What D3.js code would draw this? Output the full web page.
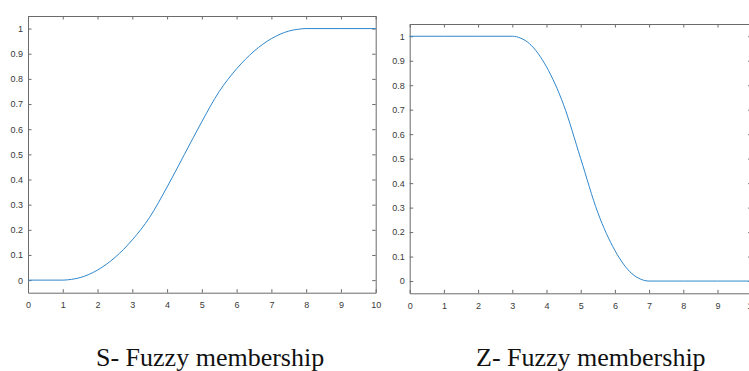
<!DOCTYPE html>
<html>
<head>
<meta charset="utf-8">
<script src="https://cdn.jsdelivr.net/npm/d3@7"></script>
<style>
  body { margin: 0; background: #fff; }
  svg { display: block; }
</style>
</head>
<body>
<div id="chart"></div>
<script>
/**
 * DATA
 */
const xTicks = [0, 1, 2, 3, 4, 5, 6, 7, 8, 9, 10];
const yTicks = [0, 0.1, 0.2, 0.3, 0.4, 0.5, 0.6, 0.7, 0.8, 0.9, 1];

const sX = [0, 0.5, 1, 1.25, 1.5, 2, 2.5, 3, 3.5, 4, 4.5, 5, 5.5, 6, 6.5, 7, 7.5, 7.75, 8, 9, 10];
const sY = [0, 0, 0, 0.003, 0.01, 0.04, 0.09, 0.16, 0.25, 0.37, 0.5, 0.63, 0.75, 0.84, 0.91, 0.96, 0.99, 0.997, 1, 1, 1];

const zX = [0, 1, 2, 3, 3.25, 3.5, 4, 4.5, 5, 5.5, 6, 6.5, 6.75, 7, 8, 9, 10];
const zY = [1, 1, 1, 1, 0.992, 0.97, 0.875, 0.72, 0.5, 0.28, 0.125, 0.03, 0.008, 0, 0, 0, 0];

const captions = ["S- Fuzzy membership", "Z- Fuzzy membership"];

/**
 * CONSTANTS
 */
const width = 749, height = 371;
const lineColor = "#2f87cc";
const axisColor = "#6b6b6b";

const svg = d3.select("#chart").append("svg")
  .attr("width", width)
  .attr("height", height);

// each panel: plot box in pixels (the right one runs past the window edge, like the reference)
const panels = [
  { x0: 28, x1: 375.7, y0: 292.7, y1: 16, xs: sX, ys: sY, caption: captions[0], capX: 96 },
  { x0: 409.7, x1: 751.7, y0: 293.3, y1: 24, xs: zX, ys: zY, caption: captions[1], capX: 476 }
];

panels.forEach(p => {
  const x = d3.scaleLinear().domain([0, 10]).range([p.x0, p.x1]);
  const y = d3.scaleLinear().domain([-0.05, 1.05]).range([p.y0, p.y1]);

  const g = svg.append("g");

  // bottom axis with labels, ticks pointing in
  g.append("g")
    .attr("transform", `translate(0,${p.y0})`)
    .call(d3.axisBottom(x).tickValues(xTicks).tickSizeInner(-3.5).tickSizeOuter(0).tickPadding(9));

  // top axis, ticks only
  g.append("g")
    .attr("transform", `translate(0,${p.y1})`)
    .call(d3.axisTop(x).tickValues(xTicks).tickSizeInner(-3.5).tickSizeOuter(0).tickFormat(""));

  // left axis with labels
  g.append("g")
    .attr("transform", `translate(${p.x0},0)`)
    .call(d3.axisLeft(y).tickValues(yTicks).tickSizeInner(-3.5).tickSizeOuter(0).tickPadding(5)
      .tickFormat(d => +d.toFixed(1)));

  // right axis, ticks only
  g.append("g")
    .attr("transform", `translate(${p.x1},0)`)
    .call(d3.axisRight(y).tickValues(yTicks).tickSizeInner(-3.5).tickSizeOuter(0).tickFormat(""));

  g.selectAll(".domain").attr("stroke", axisColor).attr("stroke-width", 1);
  g.selectAll(".tick line").attr("stroke", axisColor);
  g.selectAll(".tick text")
    .attr("fill", "#3a3a3a")
    .style("font-family", "'Liberation Sans', Arial, sans-serif")
    .style("font-size", "9px");

  // curve
  const pts = p.xs.map((v, i) => [v, p.ys[i]]);
  g.append("path")
    .datum(pts)
    .attr("fill", "none")
    .attr("stroke", lineColor)
    .attr("stroke-width", 1)
    .attr("d", d3.line().x(d => x(d[0])).y(d => y(d[1])).curve(d3.curveMonotoneX));

  // caption under panel
  svg.append("text")
    .attr("x", p.capX)
    .attr("y", 366)
    .attr("fill", "#111")
    .style("font-family", "'Liberation Serif', 'Times New Roman', serif")
    .style("font-size", "26px")
    .text(p.caption);
});
</script>
</body>
</html>
